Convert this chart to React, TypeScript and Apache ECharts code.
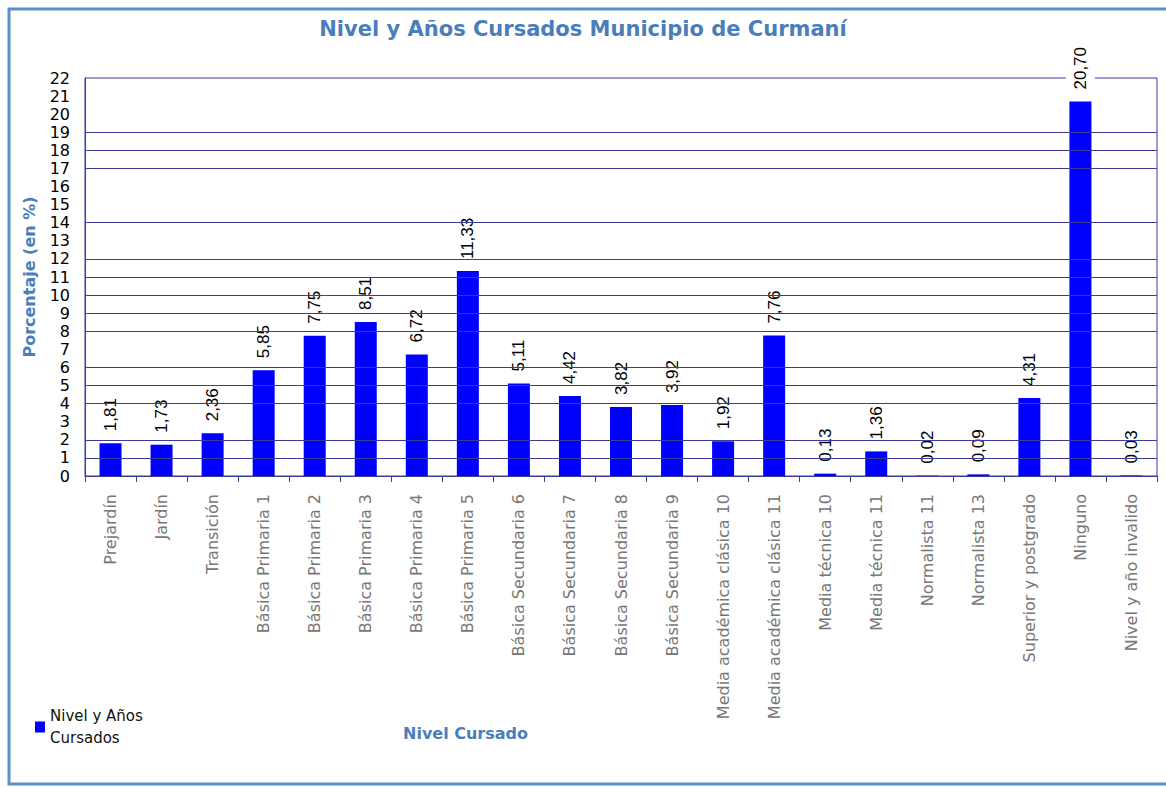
import React, { useEffect, useRef } from "react";
import * as echarts from "echarts";

const categories = [
  "Prejardín",
  "Jardín",
  "Transición",
  "Básica Primaria 1",
  "Básica Primaria 2",
  "Básica Primaria 3",
  "Básica Primaria 4",
  "Básica Primaria 5",
  "Básica Secundaria 6",
  "Básica Secundaria 7",
  "Básica Secundaria 8",
  "Básica Secundaria 9",
  "Media académica clásica 10",
  "Media académica clásica 11",
  "Media técnica 10",
  "Media técnica 11",
  "Normalista 11",
  "Normalista 13",
  "Superior y postgrado",
  "Ninguno",
  "Nivel y año invalido",
];

const values = [
  1.81, 1.73, 2.36, 5.85, 7.75, 8.51, 6.72, 11.33, 5.11, 4.42, 3.82, 3.92,
  1.92, 7.76, 0.13, 1.36, 0.02, 0.09, 4.31, 20.7, 0.03,
];

const gridValues = [1, 2, 4, 5, 6, 8, 9, 10, 11, 12, 14, 17, 18, 19];

const seriesName = "Nivel y Años Cursados";
const titleText = "Nivel y Años Cursados Municipio de Curmaní";
const yName = "Porcentaje (en %)";
const xName = "Nivel Cursado";

export default function App() {
  const ref = useRef<HTMLDivElement>(null);
  useEffect(() => {
    document.body.style.margin = "0";
    if (!ref.current) return;
    const chart = echarts.init(ref.current, null, { renderer: "svg" });
    const axisColor = "#3b3b9c";
    const blue = "#4a7ebb";
    chart.setOption({
      animation: false,
      backgroundColor: "#ffffff",
      title: {
        text: titleText,
        left: "center",
        top: 13,
        textStyle: {
          fontFamily: "DejaVu Sans",
          fontWeight: "bold",
          fontSize: 21,
          color: blue,
        },
      },
      legend: {
        left: 35,
        top: 694,
        padding: 0,
        icon: "rect",
        itemWidth: 10,
        itemHeight: 11,
        itemGap: 4,
        formatter: () => "Nivel y Años\nCursados",
        textStyle: {
          fontFamily: "DejaVu Sans",
          fontSize: 15,
          color: "#111",
          lineHeight: 22,
          padding: [22, 0, 0, 0],
        },
        data: [seriesName],
      },
      grid: {
        left: 85,
        top: 78,
        right: 9,
        height: 398,
        show: true,
        borderColor: axisColor,
        borderWidth: 1,
        backgroundColor: "transparent",
      },
      xAxis: {
        type: "category",
        data: categories,
        axisLine: { lineStyle: { color: axisColor, width: 1 } },
        axisTick: { show: true, length: 6, lineStyle: { color: axisColor } },
        axisLabel: {
          rotate: 90,
          interval: 0,
          margin: 18,
          fontFamily: "DejaVu Sans",
          fontSize: 16,
          color: "#777",
        },
      },
      yAxis: {
        type: "value",
        min: 0,
        max: 22,
        interval: 1,
        name: yName,
        nameLocation: "middle",
        nameGap: 48,
        nameTextStyle: {
          fontFamily: "DejaVu Sans",
          fontWeight: "bold",
          fontSize: 16,
          color: blue,
        },
        axisLine: { show: true, lineStyle: { color: axisColor, width: 1 } },
        axisTick: { show: false },
        splitLine: { show: false },
        axisLabel: {
          margin: 15,
          fontFamily: "DejaVu Sans",
          fontSize: 16,
          color: "#000",
        },
      },
      graphic: [
        {
          type: "rect",
          shape: { x: 9, y: 9, width: 1200, height: 775 },
          style: { fill: "none", stroke: "#5b8fd0", lineWidth: 3 },
          silent: true,
          z: 100,
        },
        {
          type: "text",
          x: 403,
          y: 733,
          style: {
            text: xName,
            fontFamily: "DejaVu Sans",
            fontWeight: "bold",
            fontSize: 16,
            fill: blue,
            verticalAlign: "middle",
          },
        },
      ],
      series: [
        {
          name: "gridlines",
          type: "line",
          data: [],
          z: 1,
          silent: true,
          markLine: {
            silent: true,
            symbol: "none",
            label: { show: false },
            lineStyle: { color: axisColor, width: 1, type: "solid" },
            emphasis: { disabled: true },
            data: gridValues.map((v) => ({ yAxis: v })),
          },
        },
        {
          name: seriesName,
          type: "bar",
          data: values,
          barWidth: 22,
          z: 3,
          itemStyle: { color: "#0000ff" },
          label: {
            show: true,
            position: "top",
            rotate: 90,
            align: "left",
            verticalAlign: "middle",
            distance: 10,
            fontFamily: "Liberation Sans",
            fontSize: 17,
            color: "#000",
            backgroundColor: "#ffffff",
            padding: [6, 2],
            formatter: (p: any) => p.value.toFixed(2).replace(".", ","),
          },
        },
      ],
    });
    return () => chart.dispose();
  }, []);
  return <div ref={ref} style={{ width: 1166, height: 787 }} />;
}
